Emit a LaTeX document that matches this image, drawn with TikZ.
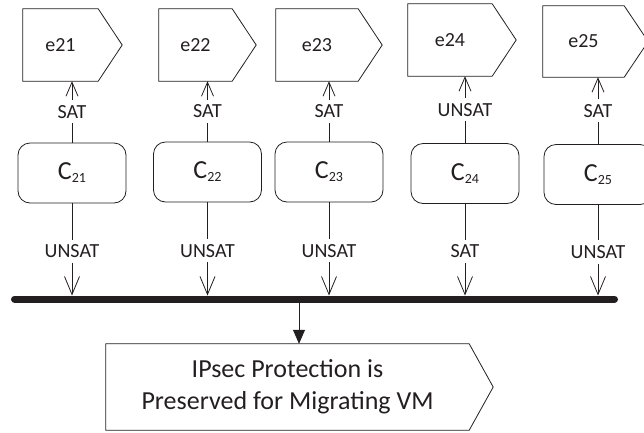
\documentclass[tikz,border=0pt]{standalone}
\usepackage{fontspec}
\setmainfont{Carlito}
\usetikzlibrary{arrows.meta}

\definecolor{ink}{RGB}{35,31,32}
\newcommand{\subidx}[1]{\raisebox{-3pt}{\fontsize{14}{14}\selectfont #1}}

\tikzset{
  evt/.style={rectangle, inner sep=0pt, minimum width=75pt, minimum height=72pt,
    font=\fontsize{20}{24}\selectfont},
  evtline/.style={draw=ink, line width=0.8pt},
  cond/.style={draw=ink, line width=0.8pt, rounded corners=12pt, inner sep=0pt,
    minimum width=108pt, minimum height=60pt, font=\fontsize{26}{30}\selectfont},
  lbl/.style={fill=white, inner xsep=1pt, inner ysep=5pt, font=\fontsize{20}{24}\selectfont},
  upar/.style={draw=ink, line width=0.8pt, -{Straight Barb[length=14pt,width=12pt]}},
  dnar/.style={draw=ink, line width=0.8pt, -{Straight Barb[length=18pt,width=15pt]}, shorten >=3.5pt},
}

\begin{document}
\begin{tikzpicture}[x=1pt, y=-1pt, color=ink]
    \useasboundingbox (0,0) rectangle (644,432);

    % events
    \node[evt] (e21) at (60.5,45) {e21};
    \node[evt, minimum width=73pt] (e22) at (195.5,45) {e22};
    \node[evt, minimum width=82pt] (e23) at (317,45) {e23};
    \node[evt, minimum width=84pt] (e24) at (450,40) {e24};
    \node[evt, minimum width=81pt, minimum height=71pt] (e25) at (583.5,41.5) {e25};

    % result
    \node[evt, minimum width=363pt, minimum height=86pt, align=center,
          font=\fontsize{26}{32}\selectfont] (res) at (287.5,387)
          {IPsec Protection is\\Preserved for Migrating VM};

    % pointed outlines
    \foreach \n in {e21,e22,e23,e24,e25,res}
        \draw[evtline] (\n.north west) -- (\n.north east) -- ([xshift=24pt]\n.east)
            -- (\n.south east) -- (\n.south west) -- cycle;

    % conditions
    \node[cond] (c21) at (72,173) {C\subidx{21}};
    \node[cond] (c22) at (207.5,172) {C\subidx{22}};
    \node[cond] (c23) at (329,172) {C\subidx{23}};
    \node[cond] (c24) at (465,173.5) {C\subidx{24}};
    \node[cond] (c25) at (598,174.5) {C\subidx{25}};

    \draw[upar] (c21.north) -- node[lbl] {SAT} (c21.north |- e21.south);
    \draw[upar] (c22.north) -- node[lbl] {SAT} (c22.north |- e22.south);
    \draw[upar] (c23.north) -- node[lbl] {SAT} (c23.north |- e23.south);
    \draw[upar] (c24.north) -- node[lbl] {UNSAT} (c24.north |- e24.south);
    \draw[upar] (c25.north) -- node[lbl] {SAT} (c25.north |- e25.south);

    % bar
    \coordinate (barL) at (14.5,299);
    \coordinate (barR) at (614.5,299);
    \coordinate (tap) at (299,299);
    \draw[line width=7pt, line cap=round] (barL) -- (barR);

    \draw[dnar] (c21.south) -- node[lbl] {UNSAT} (c21.south |- barL);
    \draw[dnar] (c22.south) -- node[lbl] {UNSAT} (c22.south |- barL);
    \draw[dnar] (c23.south) -- node[lbl] {UNSAT} (c23.south |- barL);
    \draw[dnar] (c24.south) -- node[lbl] {SAT} (c24.south |- barL);
    \draw[dnar] (c25.south) -- node[lbl] {UNSAT} (c25.south |- barL);

    \draw[line width=0.8pt, -{Triangle[length=14pt,width=12pt]}] (tap) -- (tap |- res.north);

\end{tikzpicture}
\end{document}
